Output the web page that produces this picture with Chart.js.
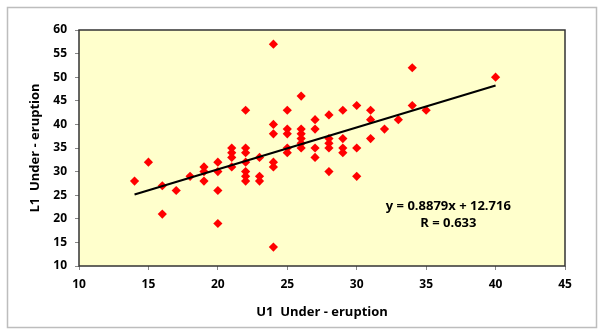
<!DOCTYPE html>
<html>
<head>
<meta charset="utf-8">
<script src="https://cdn.jsdelivr.net/npm/chart.js@4.4.1/dist/chart.umd.min.js"></script>
<style>
  body { margin: 0; background: #fff; }
  #wrap { width: 605px; height: 335px; }
</style>
</head>
<body>
<div id="wrap"><canvas id="myChart" width="605" height="335"></canvas></div>
<script>
// U1 / L1 under-eruption measurements
var u1 = [14, 15, 16, 16, 17, 18, 19, 19, 19,
          20, 20, 20, 20, 21, 21, 21, 21,
          22, 22, 22, 22, 22, 22, 22, 23, 23, 23,
          24, 24, 24, 24, 24, 24, 25, 25, 25, 25, 25,
          26, 26, 26, 26, 26, 26, 27, 27, 27, 27,
          28, 28, 28, 28, 28, 29, 29, 29, 29,
          30, 30, 30, 31, 31, 31, 32, 33, 34, 34, 35, 40]
var l1 = [28, 32, 27, 21, 26, 29, 31, 30, 28,
          32, 30, 26, 19, 35, 34, 33, 31,
          43, 35, 34, 32, 30, 29, 28, 33, 29, 28,
          57, 40, 38, 32, 31, 14, 43, 39, 38, 35, 34,
          46, 39, 38, 37, 36, 35, 41, 39, 35, 33,
          42, 37, 36, 35, 30, 43, 37, 35, 34,
          44, 35, 29, 43, 41, 37, 39, 41, 52, 44, 43, 50]

var xTicks = [10, 15, 20, 25, 30, 35, 40, 45]
var yTicks = [10, 15, 20, 25, 30, 35, 40, 45, 50, 55, 60]

var slope = 0.8879
var intercept = 12.716
var rValue = 0.633

var points = u1.map(function (x, i) { return { x: x, y: l1[i] } })
var xMin = Math.min.apply(null, u1)
var xMax = Math.max.apply(null, u1)
var trend = [
    { x: xMin, y: slope * xMin + intercept },
    { x: xMax, y: slope * xMax + intercept }
]

var tickFont = { family: 'Open Sans', size: 12, weight: 'bold' }
var titleFont = { family: 'Open Sans', size: 13, weight: 'bold' }

var framePlugin = {
    id: 'frame',
    beforeDraw: function (chart) {
        var c = chart.ctx, a = chart.chartArea
        c.save()
        c.fillStyle = '#fff'
        c.fillRect(0, 0, chart.width, chart.height)
        c.strokeStyle = '#bdbdbd'
        c.lineWidth = 1.5
        c.strokeRect(7.5, 7.5, 589, 320)
        c.fillStyle = '#FFFFCC'
        c.fillRect(a.left, a.top, a.right - a.left, a.bottom - a.top)
        c.restore()
    },
    afterDraw: function (chart) {
        var c = chart.ctx, a = chart.chartArea
        var xs = chart.scales.x, ys = chart.scales.y
        c.save()
        c.strokeStyle = '#333'
        c.lineWidth = 1.5
        c.strokeRect(a.left, a.top, a.right - a.left, a.bottom - a.top)
        c.fillStyle = '#000'
        c.font = 'bold 13px "Open Sans"'
        c.textAlign = 'center'
        c.textBaseline = 'middle'
        var tx = xs.getPixelForValue(36.6)
        c.fillText('y = ' + slope + 'x + ' + intercept, tx, ys.getPixelForValue(22.7))
        c.fillText('R = ' + rValue, tx, ys.getPixelForValue(19.1))
        c.restore()
    }
}

var ctx = document.getElementById('myChart')
var myChart = new Chart(ctx, {
    type: 'scatter',
    data: {
        datasets: [{
            label: 'L1 vs U1',
            data: points,
            pointStyle: 'rectRot',
            pointRadius: 4.6,
            backgroundColor: '#FF0000',
            borderColor: '#FF0000',
            borderWidth: 0,
            order: 2
        }, {
            label: 'Trend',
            type: 'line',
            data: trend,
            borderColor: '#000',
            borderWidth: 2.2,
            pointRadius: 0,
            fill: false,
            order: 1
        }]
    },
    options: {
        responsive: false,
        animation: false,
        layout: { padding: { top: 30, right: 40, left: 0, bottom: 0 } },
        plugins: {
            legend: { display: false },
            tooltip: { enabled: false }
        },
        scales: {
            x: {
                type: 'linear',
                min: xTicks[0],
                max: xTicks[xTicks.length - 1],
                afterFit: function (scale) { scale.height = 69 },
                afterBuildTicks: function (scale) {
                    scale.ticks = xTicks.map(function (v) { return { value: v } })
                },
                grid: { drawOnChartArea: false, drawTicks: true, tickLength: 4, color: '#888' },
                border: { display: false },
                ticks: { font: tickFont, color: '#000', padding: 7, maxRotation: 0 },
                title: {
                    display: true,
                    text: 'U1  Under - eruption',
                    font: titleFont,
                    color: '#000',
                    padding: { top: 0, bottom: 15 }
                }
            },
            y: {
                type: 'linear',
                min: yTicks[0],
                max: yTicks[yTicks.length - 1],
                afterFit: function (scale) { scale.width = 79 },
                afterBuildTicks: function (scale) {
                    scale.ticks = yTicks.map(function (v) { return { value: v } })
                },
                grid: { drawOnChartArea: false, drawTicks: true, tickLength: 4, color: '#888' },
                border: { display: false },
                ticks: { font: tickFont, color: '#000', padding: 8 },
                title: {
                    display: true,
                    text: 'L1  Under - eruption',
                    font: titleFont,
                    color: '#000',
                    padding: { top: 27, bottom: 0 }
                }
            }
        }
    },
    plugins: [framePlugin]
})
</script>
</body>
</html>
